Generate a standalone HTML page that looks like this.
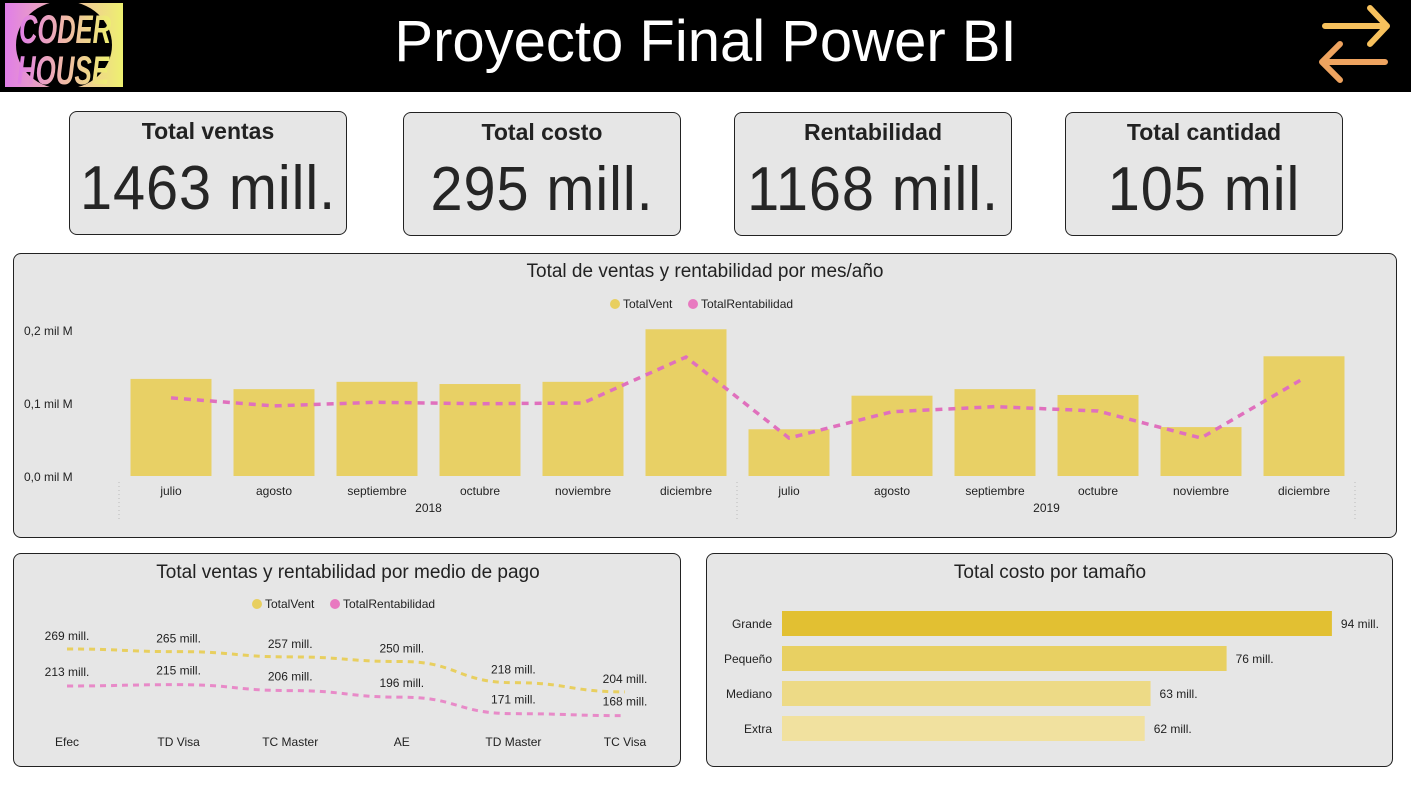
<!DOCTYPE html>
<html><head><meta charset="utf-8">
<style>
body{margin:0;width:1411px;height:789px;background:#fff;position:relative;overflow:hidden;font-family:"Liberation Sans",sans-serif;}
.abs{position:absolute;}
.card{position:absolute;background:#e6e6e6;border:1px solid #222;border-radius:8px;box-sizing:border-box;text-align:center;}
.card .t{font-weight:bold;font-size:23px;color:#222;margin-top:6px;}
.card .v{font-size:62px;color:#252525;margin-top:8px;letter-spacing:1px;transform:scaleX(0.93);white-space:nowrap;}
.panel{position:absolute;background:#e6e6e6;border:1px solid #222;border-radius:8px;box-sizing:border-box;}
svg text{font-family:"Liberation Sans",sans-serif;}
</style></head><body>
<div class="abs" style="left:0;top:0;width:1411px;height:92px;background:#000;"></div>
<svg class="abs" style="left:5px;top:3px" width="120" height="86">
<defs><linearGradient id="lg" x1="0" x2="1"><stop offset="0" stop-color="#e07ee8"/><stop offset="0.5" stop-color="#f0b8a8"/><stop offset="1" stop-color="#eef070"/></linearGradient></defs>
<rect x="0" y="0" width="118" height="84" fill="url(#lg)"/>
<ellipse cx="59" cy="42" rx="48" ry="44" fill="#000"/>
<text x="14" y="40" font-size="40" font-weight="bold" fill="url(#lg)" font-style="italic" textLength="92" lengthAdjust="spacingAndGlyphs">CODER</text>
<text x="12" y="81" font-size="40" font-weight="bold" fill="url(#lg)" font-style="italic" textLength="92" lengthAdjust="spacingAndGlyphs">HOUSE</text>
</svg>
<div class="abs" style="left:0;width:1411px;top:8px;text-align:center;color:#fff;font-size:58px;">Proyecto Final Power BI</div>
<svg class="abs" style="left:1300px;top:0" width="100" height="92">
<g fill="none" stroke-linecap="round" stroke-linejoin="round" stroke-width="6">
<path d="M25 26 H87 M70 8 L87 26 L70 44" stroke="#f7c15d"/>
<path d="M85 62 H23 M40 44 L22 62 L40 80" stroke="#eea35f"/>
</g></svg>

<div class="card" style="left:69px;top:111px;width:278px;height:124px"><div class="t">Total ventas</div><div class="v">1463 mill.</div></div>
<div class="card" style="left:403px;top:112px;width:278px;height:124px"><div class="t">Total costo</div><div class="v">295 mill.</div></div>
<div class="card" style="left:734px;top:112px;width:278px;height:124px"><div class="t">Rentabilidad</div><div class="v">1168 mill.</div></div>
<div class="card" style="left:1065px;top:112px;width:278px;height:124px"><div class="t">Total cantidad</div><div class="v">105 mil</div></div>

<div class="panel" style="left:13px;top:253px;width:1384px;height:285px"></div>
<div class="panel" style="left:13px;top:553px;width:668px;height:214px"></div>
<div class="panel" style="left:706px;top:553px;width:687px;height:214px"></div>

<svg id="svg" class="abs" style="left:0;top:0" width="1411" height="789"></svg>

<script>
const months=["julio","agosto","septiembre","octubre","noviembre","diciembre","julio","agosto","septiembre","octubre","noviembre","diciembre"];
const years=["2018","2019"];
const ventas=[0.133,0.119,0.129,0.126,0.129,0.201,0.064,0.110,0.119,0.111,0.067,0.164];
const rentab=[0.107,0.096,0.101,0.099,0.100,0.163,0.052,0.088,0.095,0.089,0.052,0.134];
const yTicks=[0,0.1,0.2];
const yTickLabels=["0,0 mil M","0,1 mil M","0,2 mil M"];

const medios=["Efec","TD Visa","TC Master","AE","TD Master","TC Visa"];
const medVent=[269,265,257,250,218,204];
const medRent=[213,215,206,196,171,168];

const sizes=["Grande","Pequeño","Mediano","Extra"];
const costos=[94,76,63,62];
const sizeColors=["#e2c032","#e8d062","#edda86","#f1e19f"];

const NS="http://www.w3.org/2000/svg";
const svg=document.getElementById('svg');
function el(tag,attrs,parent){const e=document.createElementNS(NS,tag);for(const k in attrs)e.setAttribute(k,attrs[k]);(parent||svg).appendChild(e);return e;}
function txt(x,y,s,size,anchor,fill){const t=el('text',{x:x,y:y,'font-size':size,'text-anchor':anchor||'middle',fill:fill||'#222'});t.textContent=s;return t;}

// Chart 1
const t1=txt(705,277,"Total de ventas y rentabilidad por mes/año",19);


function legend(x,y){
 const g=el('g',{});
 
 
 el('circle',{cx:x,cy:y,r:5,fill:'#e8cf5f'},g);
 const b=txt(x+8,y+4,"TotalVent",12,'start');g.appendChild(b);
 el('circle',{cx:x+78,cy:y,r:5,fill:'#e879c0'},g);
 const c=txt(x+86,y+4,"TotalRentabilidad",12,'start');g.appendChild(c);
}
legend(615,304);
const y1=v=>476-v*730;
const x1=i=>171+i*103;
yTicks.forEach((t,i)=>{const l=txt(24,y1(t)+5,yTickLabels[i],12,'start');
 
 });
ventas.forEach((v,i)=>{const r=el('rect',{x:x1(i)-40.5,y:y1(v),width:81,height:476-y1(v),fill:'#e8d065'});
 
 
 const m=txt(x1(i),495,months[i],12);
 
 });
const p1=el('polyline',{points:rentab.map((v,i)=>x1(i)+','+y1(v)).join(' '),fill:'none',stroke:'#e070bd','stroke-width':3.5,'stroke-dasharray':'7,6'});


years.forEach((yv,j)=>{const l=txt(x1(j*6)+257.5,512,yv,12);
 
 
 el('line',{x1:x1(j*6)-52,y1:482,x2:x1(j*6)-52,y2:520,stroke:'#bbb','stroke-dasharray':'1,3'});});
el('line',{x1:x1(12)-52,y1:482,x2:x1(12)-52,y2:520,stroke:'#bbb','stroke-dasharray':'1,3'});

// Chart 2
const t2=txt(348,578,"Total ventas y rentabilidad por medio de pago",19);


legend(257,604);
const x2=i=>67+i*111.6;
const y2=v=>649+(269-v)*0.66;
function smoothPath(vals){let d='';vals.forEach((v,i)=>{const x=x2(i),y=y2(v);if(i===0)d+='M'+x+' '+y;else{const px=x2(i-1),py=y2(vals[i-1]);const mx=(px+x)/2;d+=' C'+mx+' '+py+' '+mx+' '+y+' '+x+' '+y;}});return d;}
const pv=el('path',{d:smoothPath(medVent),fill:'none',stroke:'#e8cf5f','stroke-width':3,'stroke-dasharray':'6,5'});


const pr=el('path',{d:smoothPath(medRent),fill:'none',stroke:'#e88ac8','stroke-width':3,'stroke-dasharray':'6,5'});


medios.forEach((m,i)=>{
 const l=txt(x2(i),746,m,12);
 
 
 const a=txt(x2(i),y2(medVent[i])-9,medVent[i]+" mill.",12);
 
 
 const b=txt(x2(i),y2(medRent[i])-10,medRent[i]+" mill.",12);
 
 
});

// Chart 3
const t3=txt(1050,578,"Total costo por tamaño",19);


const xs=v=>782+v*5.85;
sizes.forEach((s,i)=>{
 const y=611+i*35;
 const r=el('rect',{x:782,y:y,width:xs(costos[i])-782,height:25,fill:sizeColors[i]});
 
 
 const l=txt(772,y+17,s,12,'end');
 
 
 const v=txt(xs(costos[i])+9,y+17,costos[i]+" mill.",12,'start');
 
 
});
</script>
</body></html>
